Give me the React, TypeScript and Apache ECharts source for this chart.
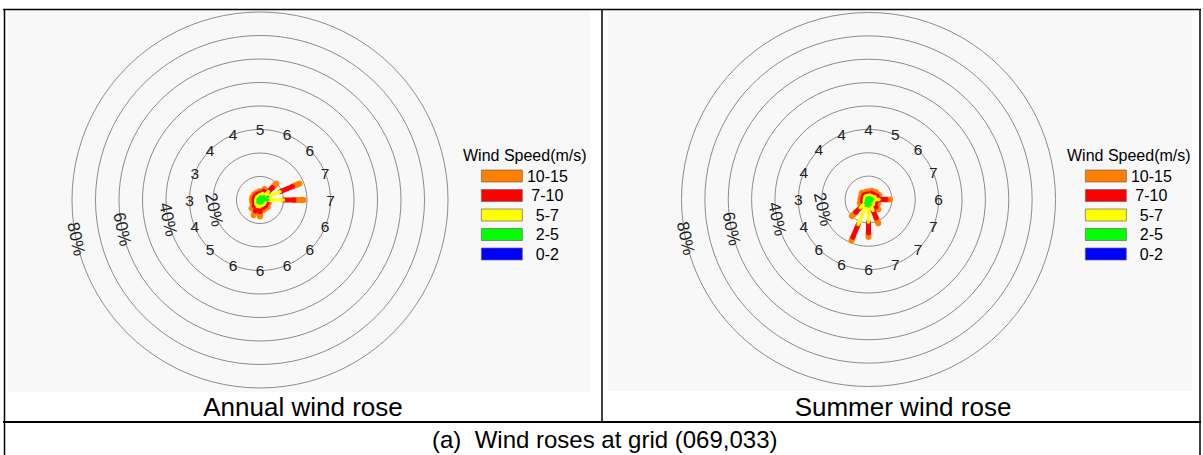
import React, { useEffect, useRef } from 'react';
import * as echarts from 'echarts';

// 16 compass directions, clockwise from north
const DIRECTIONS = ['N', 'NNE', 'NE', 'ENE', 'E', 'ESE', 'SE', 'SSE', 'S', 'SSW', 'SW', 'WSW', 'W', 'WNW', 'NW', 'NNW'];
const DIRECTION_ANGLES = [0, 22.5, 45, 67.5, 90, 112.5, 135, 157.5, 180, 202.5, 225, 247.5, 270, 292.5, 315, 337.5];

const SPEED_BINS = ['0-2', '2-5', '5-7', '7-10', '10-15'];
const BIN_COLORS = ['#0000ff', '#00ff00', '#ffff00', '#ff0000', '#ff8000'];
const BIN_WIDTHS = [1.5, 2.5, 3.5, 5, 6];
const LEGEND_ORDER = ['10-15', '7-10', '5-7', '2-5', '0-2'];

// Annual wind rose: frequency (%) per direction and speed bin
const annual0to2 = [0, 0, 0, 0, 0, 0, 0, 0, 0, 0, 0, 0, 0, 0, 0, 0];
const annual2to5 = [1.4, 1.5, 2.5, 3.8, 3.5, 1.5, 1.5, 1.5, 1.5, 1.5, 1.5, 1.0, 1.0, 1.0, 1.0, 1.1];
const annual5to7 = [0.9, 1.5, 2.5, 5.4, 6.5, 1.0, 1.0, 1.0, 1.5, 1.5, 1.0, 0.9, 0.8, 0.8, 0.9, 0.8];
const annual7to10 = [0.7, 1.0, 2.5, 5.8, 4.5, 0.7, 1.0, 1.0, 2.0, 2.0, 1.0, 0.8, 0.8, 0.8, 0.8, 0.8];
const annual10to15 = [0.8, 1.0, 2.3, 3.2, 4.0, 0.8, 1.0, 1.0, 2.0, 2.0, 1.5, 0.8, 0.9, 0.9, 0.8, 0.8];
const annualMeanSpeed = [5, 6, 6, 7, 7, 6, 6, 6, 6, 6, 5, 4, 3, 3, 4, 4];

// Summer wind rose
const summer0to2 = [0, 0, 0, 0, 0, 0, 0, 0, 0, 0, 0, 0, 0, 0, 0, 0];
const summer2to5 = [1.0, 1.0, 1.2, 1.5, 2.0, 1.5, 1.5, 2.5, 3.0, 3.0, 2.0, 1.0, 1.0, 1.0, 1.0, 1.0];
const summer5to7 = [0.8, 1.0, 1.0, 1.5, 2.5, 1.0, 1.5, 2.5, 6.6, 8.5, 3.0, 1.0, 0.8, 0.8, 1.0, 0.8];
const summer7to10 = [0.7, 1.0, 1.0, 1.0, 3.0, 1.0, 1.5, 3.5, 4.7, 6.0, 2.7, 0.8, 0.7, 0.7, 0.8, 0.7];
const summer10to15 = [1.0, 1.0, 1.3, 1.0, 1.7, 1.0, 1.5, 2.5, 1.7, 1.5, 2.3, 1.2, 1.0, 1.0, 1.2, 1.0];
const summerMeanSpeed = [4, 5, 6, 7, 6, 7, 7, 7, 6, 6, 6, 4, 3, 4, 4, 4];

// Radial axis
const RADIUS_MAX = 80;
const RADIUS_INTERVAL = 10;
const RING_TICKS = [20, 40, 60, 80];
const RING_LABELS = ['20%', '40%', '60%', '80%'];
const RING_LABEL_ANGLE = 258;
const SPEED_LABEL_RADIUS = 30;

const FONT = '"Liberation Sans", Arial, Helvetica, sans-serif';

function buildPanelSeries(polarIndex: number, bins: number[][], speeds: number[]) {
  const series: any[] = [];
  bins.forEach((bin, b) => {
    const data = DIRECTION_ANGLES.map((ang, i) => {
      let start = 0;
      for (let k = 0; k < b; k++) start += bins[k][i];
      return [start + bin[i], ang, start];
    });
    const color = BIN_COLORS[b];
    const width = BIN_WIDTHS[b];
    series.push({
      type: 'custom',
      name: SPEED_BINS[b],
      coordinateSystem: 'polar',
      polarIndex,
      silent: true,
      z: 10 - b,
      itemStyle: { color },
      data,
      renderItem: (params: any, api: any) => {
        const end = api.value(0);
        const ang = api.value(1);
        const start = api.value(2);
        if (end - start <= 0) return null;
        const p1 = api.coord([start, ang]);
        const p2 = api.coord([end, ang]);
        return {
          type: 'line',
          shape: { x1: p1[0], y1: p1[1], x2: p2[0], y2: p2[1] },
          style: { stroke: color, lineWidth: width, lineCap: 'round' },
        };
      },
    });
  });
  // mean wind speed labels on the 30% ring
  series.push({
    type: 'custom',
    coordinateSystem: 'polar',
    polarIndex,
    silent: true,
    z: 20,
    data: speeds.map((s, i) => [SPEED_LABEL_RADIUS, DIRECTION_ANGLES[i], s]),
    renderItem: (params: any, api: any) => {
      const p = api.coord([api.value(0), api.value(1)]);
      return {
        type: 'text',
        x: p[0],
        y: p[1],
        style: {
          text: String(api.value(2)),
          fill: '#222',
          fontSize: 15.5,
          fontFamily: FONT,
          align: 'center',
          verticalAlign: 'middle',
        },
      };
    },
  });
  // percentage ring labels
  series.push({
    type: 'custom',
    coordinateSystem: 'polar',
    polarIndex,
    silent: true,
    z: 20,
    data: RING_TICKS.map((r, i) => [r, RING_LABEL_ANGLE, i]),
    renderItem: (params: any, api: any) => {
      const p = api.coord([api.value(0), api.value(1)]);
      return {
        type: 'text',
        x: p[0],
        y: p[1],
        rotation: (-(RING_LABEL_ANGLE - 180) * Math.PI) / 180,
        style: {
          text: RING_LABELS[api.value(2)],
          fill: '#222',
          fontSize: 17,
          fontFamily: FONT,
          align: 'center',
          verticalAlign: 'middle',
        },
      };
    },
  });
  return series;
}

function legendFor(left: number, top: number) {
  return {
    data: LEGEND_ORDER,
    left,
    top,
    padding: 0,
    orient: 'vertical',
    icon: 'rect',
    itemWidth: 41,
    itemHeight: 12,
    itemGap: 3.5,
    selectedMode: false,
    itemStyle: { borderColor: '#666', borderWidth: 0.7 },
    formatter: (n: string) => `{c|${n}}`,
    textStyle: {
      color: '#000',
      fontSize: 16,
      fontFamily: FONT,
      lineHeight: 12,
      rich: { c: { width: 40, align: 'center', fontSize: 16, lineHeight: 12, fontFamily: FONT, color: '#000' } },
    },
  };
}

function polarAxes(polarIndex: number) {
  return {
    angle: {
      polarIndex,
      type: 'value',
      min: 0,
      max: 360,
      startAngle: 90,
      clockwise: true,
      axisLine: { show: false },
      axisTick: { show: false },
      axisLabel: { show: false },
      splitLine: { show: false },
    },
    radius: {
      polarIndex,
      type: 'value',
      min: 0,
      max: RADIUS_MAX,
      interval: RADIUS_INTERVAL,
      axisLine: { show: false },
      axisTick: { show: false },
      axisLabel: { show: false },
      splitLine: { show: true, lineStyle: { color: '#8c8c8c', width: 1 } },
    },
  };
}

export default function App() {
  const ref = useRef<HTMLDivElement>(null);
  useEffect(() => {
    if (!ref.current) return;
    const chart = echarts.init(ref.current, undefined, { renderer: 'svg' });
    const a0 = polarAxes(0);
    const a1 = polarAxes(1);
    const line = (x1: number, y1: number, x2: number, y2: number, w: number) => ({
      type: 'line',
      silent: true,
      z: 50,
      shape: { x1, y1, x2, y2 },
      style: { stroke: '#000', lineWidth: w },
    });
    const option: any = {
      animation: false,
      backgroundColor: '#ffffff',
      polar: [
        { center: [260, 200], radius: 188 },
        { center: [868.5, 199.5], radius: 187 },
      ],
      angleAxis: [a0.angle, a1.angle],
      radiusAxis: [a0.radius, a1.radius],
      legend: [legendFor(481, 168), legendFor(1085, 168)],
      series: [
        ...buildPanelSeries(0, [annual0to2, annual2to5, annual5to7, annual7to10, annual10to15], annualMeanSpeed),
        ...buildPanelSeries(1, [summer0to2, summer2to5, summer5to7, summer7to10, summer10to15], summerMeanSpeed),
      ],
      graphic: [
        { type: 'rect', silent: true, z: -10, shape: { x: 8, y: 10, width: 582, height: 382 }, style: { fill: '#f8f8f8' } },
        { type: 'rect', silent: true, z: -10, shape: { x: 608, y: 10, width: 584, height: 381 }, style: { fill: '#f8f8f8' } },
        line(3, 9.5, 1201, 9.5, 1.5),
        line(4.5, 9, 4.5, 455, 1.5),
        line(602, 9, 602, 422, 1.5),
        line(1200, 9, 1200, 455, 1.5),
        line(3, 422, 1201, 422, 2),
        {
          type: 'text', silent: true, z: 50, x: 463, y: 155,
          style: { text: 'Wind Speed(m/s)', fill: '#000', fontSize: 16, fontFamily: FONT, align: 'left', verticalAlign: 'middle' },
        },
        {
          type: 'text', silent: true, z: 50, x: 1067, y: 155,
          style: { text: 'Wind Speed(m/s)', fill: '#000', fontSize: 16, fontFamily: FONT, align: 'left', verticalAlign: 'middle' },
        },
        {
          type: 'text', silent: true, z: 50, x: 303, y: 406.5,
          style: { text: 'Annual wind rose', fill: '#000', fontSize: 26, fontFamily: FONT, align: 'center', verticalAlign: 'middle' },
        },
        {
          type: 'text', silent: true, z: 50, x: 903, y: 406.5,
          style: { text: 'Summer wind rose', fill: '#000', fontSize: 26, fontFamily: FONT, align: 'center', verticalAlign: 'middle' },
        },
        {
          type: 'text', silent: true, z: 50, x: 432, y: 439.5,
          style: { text: '(a)  Wind roses at grid (069,033)', fill: '#000', fontSize: 24, fontFamily: FONT, align: 'left', verticalAlign: 'middle' },
        },
      ],
    };
    chart.setOption(option);
    return () => chart.dispose();
  }, []);
  return <div ref={ref} style={{ position: 'fixed', left: 0, top: 0, width: 1203, height: 455 }} />;
}
